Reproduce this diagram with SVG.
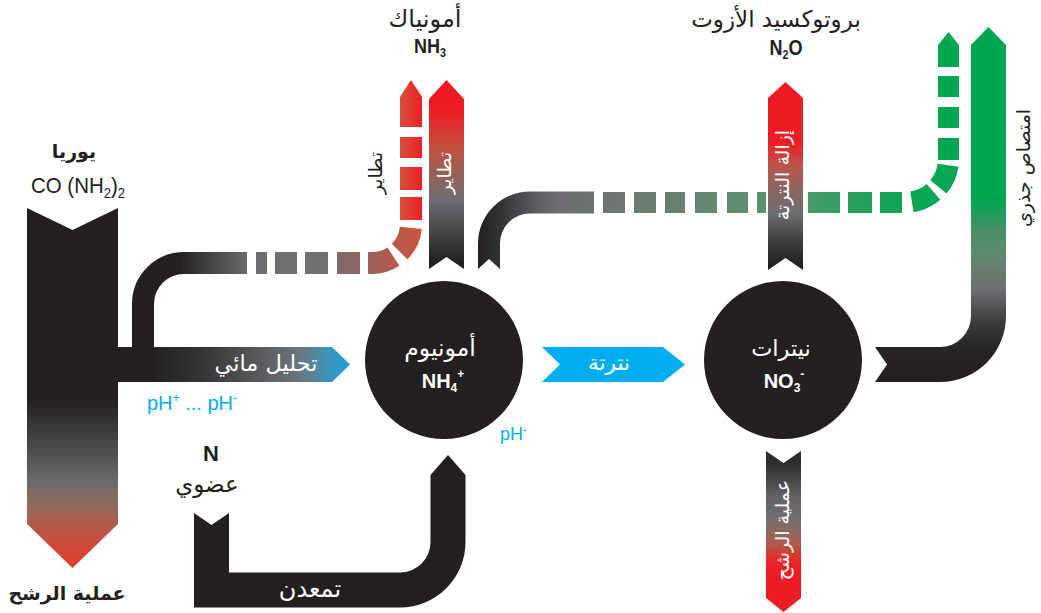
<svg xmlns="http://www.w3.org/2000/svg" width="1041" height="613" viewBox="0 0 1041 613">
<style>
.ar{font-family:"DejaVu Sans","Noto Sans",sans-serif}
.la{font-family:"Liberation Sans Narrow","Liberation Sans",Arial,sans-serif}
.bd{font-weight:bold}
.w{fill:#ffffff}
.d{fill:#231f20}
.bl{fill:#00aeef}
.blk{fill:#231f20}
</style>
<defs>
<linearGradient id="gUrea" gradientUnits="userSpaceOnUse" x1="0" y1="400" x2="0" y2="568">
<stop offset="0" stop-color="#231f20"/><stop offset="0.3" stop-color="#4d4d4f"/><stop offset="0.48" stop-color="#6a6a6c"/><stop offset="0.625" stop-color="#8f6b5e"/><stop offset="0.75" stop-color="#b45a49"/><stop offset="0.95" stop-color="#e0402e"/><stop offset="1" stop-color="#e33d2b"/>
</linearGradient>
<linearGradient id="gHyd" gradientUnits="userSpaceOnUse" x1="150" y1="0" x2="350" y2="0">
<stop offset="0" stop-color="#231f20"/><stop offset="0.25" stop-color="#333335"/><stop offset="0.6" stop-color="#606164"/><stop offset="0.75" stop-color="#6a7680"/><stop offset="0.9" stop-color="#3a95bc"/><stop offset="1" stop-color="#1aa0d6"/>
</linearGradient>
<linearGradient id="gPipeL" gradientUnits="userSpaceOnUse" x1="180" y1="0" x2="247" y2="0">
<stop offset="0" stop-color="#231f20"/><stop offset="0.5" stop-color="#48484a"/><stop offset="1" stop-color="#6a6a6d"/>
</linearGradient>
<linearGradient id="gDashH" gradientUnits="userSpaceOnUse" x1="256" y1="0" x2="360" y2="0">
<stop offset="0" stop-color="#6d6e71"/><stop offset="0.6" stop-color="#727073"/><stop offset="1" stop-color="#8e6660"/>
</linearGradient>
<linearGradient id="gCurveR" gradientUnits="userSpaceOnUse" x1="360" y1="0" x2="422" y2="0">
<stop offset="0" stop-color="#926560"/><stop offset="1" stop-color="#cf513c"/>
</linearGradient>
<linearGradient id="gVertR" x1="0" y1="0" x2="1" y2="0">
<stop offset="0" stop-color="#d5503b"/><stop offset="1" stop-color="#ee1f26"/>
</linearGradient>
<linearGradient id="gNH3" gradientUnits="userSpaceOnUse" x1="0" y1="80" x2="0" y2="269">
<stop offset="0.16" stop-color="#ed1c24"/><stop offset="0.37" stop-color="#c0533f"/><stop offset="0.5" stop-color="#95625a"/><stop offset="0.635" stop-color="#6d6e71"/><stop offset="0.81" stop-color="#434345"/><stop offset="0.97" stop-color="#231f20"/>
</linearGradient>
<linearGradient id="gN2O" gradientUnits="userSpaceOnUse" x1="0" y1="82" x2="0" y2="270">
<stop offset="0.32" stop-color="#ed1c24"/><stop offset="0.45" stop-color="#b9574a"/><stop offset="0.575" stop-color="#8a6560"/><stop offset="0.7" stop-color="#6d6e71"/><stop offset="0.84" stop-color="#3e3e40"/><stop offset="0.98" stop-color="#231f20"/>
</linearGradient>
<linearGradient id="gGP" gradientUnits="userSpaceOnUse" x1="478" y1="0" x2="594" y2="0">
<stop offset="0" stop-color="#231f20"/><stop offset="0.2" stop-color="#333336"/><stop offset="0.5" stop-color="#5c5d60"/><stop offset="0.7" stop-color="#6d6e71"/><stop offset="1" stop-color="#6c7170"/>
</linearGradient>
<linearGradient id="gDashG" gradientUnits="userSpaceOnUse" x1="600" y1="0" x2="905" y2="0">
<stop offset="0" stop-color="#6d7471"/><stop offset="0.213" stop-color="#6a7f72"/><stop offset="0.416" stop-color="#628b70"/><stop offset="0.68" stop-color="#4c9a6b"/><stop offset="0.81" stop-color="#2c9e60"/><stop offset="0.918" stop-color="#1aa25a"/><stop offset="1" stop-color="#0ba556"/>
</linearGradient>
<linearGradient id="gRoot" gradientUnits="userSpaceOnUse" x1="0" y1="27" x2="0" y2="382">
<stop offset="0.487" stop-color="#00a651"/><stop offset="0.58" stop-color="#4f8d68"/><stop offset="0.642" stop-color="#5f8a6e"/><stop offset="0.693" stop-color="#6a7a70"/><stop offset="0.741" stop-color="#6d6e71"/><stop offset="0.834" stop-color="#3a3a3b"/><stop offset="0.91" stop-color="#262324"/><stop offset="1" stop-color="#231f20"/>
</linearGradient>
<linearGradient id="gLeach" gradientUnits="userSpaceOnUse" x1="0" y1="451" x2="0" y2="612">
<stop offset="0.075" stop-color="#2d2d2f"/><stop offset="0.285" stop-color="#626265"/><stop offset="0.4" stop-color="#6d6e71"/><stop offset="0.49" stop-color="#8a6a62"/><stop offset="0.58" stop-color="#b05a4c"/><stop offset="0.658" stop-color="#e0302a"/><stop offset="0.74" stop-color="#ed1c24"/>
</linearGradient>
</defs>

<g id="connectors">
  <!-- urea pipe to volatilisation (dashed) -->
  <path d="M143 350 V304 A41 41 0 0 1 184 263 H247" fill="none" stroke="url(#gPipeL)" stroke-width="22"/>
  <g fill="url(#gDashH)">
    <rect x="256" y="252" width="11" height="22"/>
    <rect x="275" y="252" width="22" height="22"/>
    <rect x="305" y="252" width="23" height="22"/>
    <rect x="337" y="252" width="23" height="22"/>
  </g>
  <path d="M360 263 H372 A39 39 0 0 0 411 224 V220" fill="none" stroke="url(#gCurveR)" stroke-width="22" stroke-dasharray="0 8 26.6 8 26.7 100"/>
  <g fill="url(#gVertR)">
    <rect x="400" y="197" width="22" height="23"/>
    <rect x="400" y="167" width="22" height="23"/>
    <rect x="400" y="137" width="22" height="21"/>
    <polygon points="400,127 400,97 411,80 422,97 422,127"/>
  </g>
  <!-- volatilisation thick arrow -->
  <polygon points="429,269 429,99 446.5,80 464,99 464,269 446.5,257" fill="url(#gNH3)"/>
  <!-- pipe to root uptake (dashed green) -->
  <path d="M478 269 L489 259 L500 269 L500 243.5 A30 30 0 0 1 530 213.5 L594 213.5 L594 191.5 L530 191.5 A52 52 0 0 0 478 243.5 Z" fill="url(#gGP)"/>
  <g fill="url(#gDashG)">
    <rect x="603" y="192" width="22" height="21"/>
    <rect x="634" y="192" width="22" height="21"/>
    <rect x="665" y="192" width="20" height="21"/>
    <rect x="695" y="192" width="22" height="21"/>
    <rect x="727" y="192" width="21" height="21"/>
    <rect x="757" y="192" width="9" height="21"/>
    <rect x="808" y="192" width="32" height="21"/>
    <rect x="848" y="192" width="24" height="21"/>
    <rect x="880" y="192" width="22" height="21"/>
  </g>
  <path d="M905 202.5 A43.5 43.5 0 0 0 948.5 159" fill="none" stroke="#08a655" stroke-width="21" stroke-dasharray="0 7 24 7 24 20"/>
  <g fill="#00a651">
    <rect x="938" y="138" width="21" height="22"/>
    <rect x="938" y="107" width="21" height="21"/>
    <rect x="938" y="76" width="21" height="21"/>
    <polygon points="938,67 938,45 948.5,32 959,45 959,67"/>
  </g>
  <!-- denitrification arrow -->
  <polygon points="768,270 768,98 785.5,82 803,98 803,270 785.5,258" fill="url(#gN2O)"/>
  <!-- root uptake big arrow -->
  <path d="M875 347 L940 347 A31 31 0 0 0 971 316 L971 45 L988.5 27 L1006 45 L1006 316 A66 66 0 0 1 940 382 L875 382 L887 364.5 Z" fill="url(#gRoot)"/>
  <!-- urea arrow (leaching) -->
  <polygon points="27,208 72.5,230 118,208 118,524 72.5,568 27,524" fill="url(#gUrea)"/>
  <!-- hydrolysis -->
  <polygon points="116,347 332,347 350,364.5 332,382 116,382" fill="url(#gHyd)"/>
  <!-- nitrification -->
  <polygon points="542,347 663,347 685,364.5 663,382 542,382 560,364.5" fill="#00aeef"/>
  <!-- mineralisation -->
  <path d="M194 513 L211.5 525 L229 513 L229 572.5 L400 572.5 A30.5 30.5 0 0 0 430.5 542 L430.5 475 L448 455 L465.5 475 L465.5 542 A65.5 65.5 0 0 1 400 607.5 L194 607.5 Z" fill="#231f20"/>
  <!-- nitrate leaching -->
  <polygon points="766,451 783.5,463 801,451 801,598 783.5,612 766,598" fill="url(#gLeach)"/>

  <!-- connector labels -->
  <text class="ar w" x="266" y="371" font-size="22.5" text-anchor="middle">تحليل مائي</text>
  <text class="ar w" x="609" y="370" font-size="21.5" text-anchor="middle">نترتة</text>
  <text class="ar w" x="310" y="597" font-size="24" text-anchor="middle">تمعدن</text>
  <text class="ar d" font-size="19" transform="translate(377,173) rotate(-90)" x="0" y="5" text-anchor="middle">تطاير</text>
  <text class="ar w" font-size="19" transform="translate(446,173) rotate(-90)" x="0" y="5" text-anchor="middle">تطاير</text>
  <text class="ar w" font-size="19" transform="translate(784,175) rotate(-90)" x="0" y="5" text-anchor="middle">إزالة النترتة</text>
  <text class="ar d" font-size="19" transform="translate(1025,168) rotate(-90)" x="0" y="5" text-anchor="middle">امتصاص جذري</text>
  <text class="ar w" font-size="19" transform="translate(784,530) rotate(-90)" x="0" y="5" text-anchor="middle">عملية الرشح</text>
  <text class="la bl" x="147" y="410" font-size="20">pH<tspan font-size="12" dy="-8">+</tspan><tspan dy="8"> ... pH</tspan><tspan font-size="12" dy="-8">-</tspan></text>
  <text class="la bl" x="500" y="440" font-size="18">pH<tspan font-size="11" dy="-7">-</tspan></text>
</g>

<g id="urea">
  <text class="ar bd d" x="74" y="158" font-size="19" text-anchor="middle">يوريا</text>
  <text class="la d" transform="translate(78,193) scale(0.93,1)" font-size="22" text-anchor="middle">CO (NH<tspan font-size="14" dy="5">2</tspan><tspan dy="-5">)</tspan><tspan font-size="14" dy="5">2</tspan></text>
</g>

<g id="ammonia">
  <text class="ar d" x="425" y="27" font-size="24" text-anchor="middle">أمونياك</text>
  <text class="la bd d" transform="translate(430,53) scale(0.9,1)" font-size="20" text-anchor="middle">NH<tspan font-size="12" dy="4">3</tspan></text>
</g>

<g id="nitrous-oxide">
  <text class="ar d" x="776" y="27" font-size="23" text-anchor="middle">بروتوكسيد الأزوت</text>
  <text class="la bd d" transform="translate(786,55) scale(0.82,1)" font-size="22" text-anchor="middle">N<tspan font-size="13" dy="4">2</tspan><tspan dy="-4">O</tspan></text>
</g>

<g id="ammonium">
  <circle cx="444" cy="360" r="79" class="blk"/>
  <text class="ar w" x="440" y="356" font-size="23.5" text-anchor="middle">أمونيوم</text>
  <text class="la bd w" x="443" y="388" font-size="20" text-anchor="middle">NH<tspan font-size="12" dy="4">4</tspan><tspan font-size="12" dy="-14">+</tspan></text>
</g>

<g id="nitrate">
  <circle cx="783" cy="360" r="79" class="blk"/>
  <text class="ar w" x="781" y="356" font-size="22.5" text-anchor="middle">نيترات</text>
  <text class="la bd w" x="784" y="388" font-size="20" text-anchor="middle">NO<tspan font-size="12" dy="4">3</tspan><tspan font-size="12" dy="-14">-</tspan></text>
</g>

<g id="organic-n">
  <text class="la bd d" x="211" y="461" font-size="22" text-anchor="middle">N</text>
  <text class="ar d" x="207" y="492" font-size="23" text-anchor="middle">عضوي</text>
</g>

<g id="leaching">
  <text class="ar bd d" x="67" y="600" font-size="19" text-anchor="middle">عملية الرشح</text>
</g>
</svg>
